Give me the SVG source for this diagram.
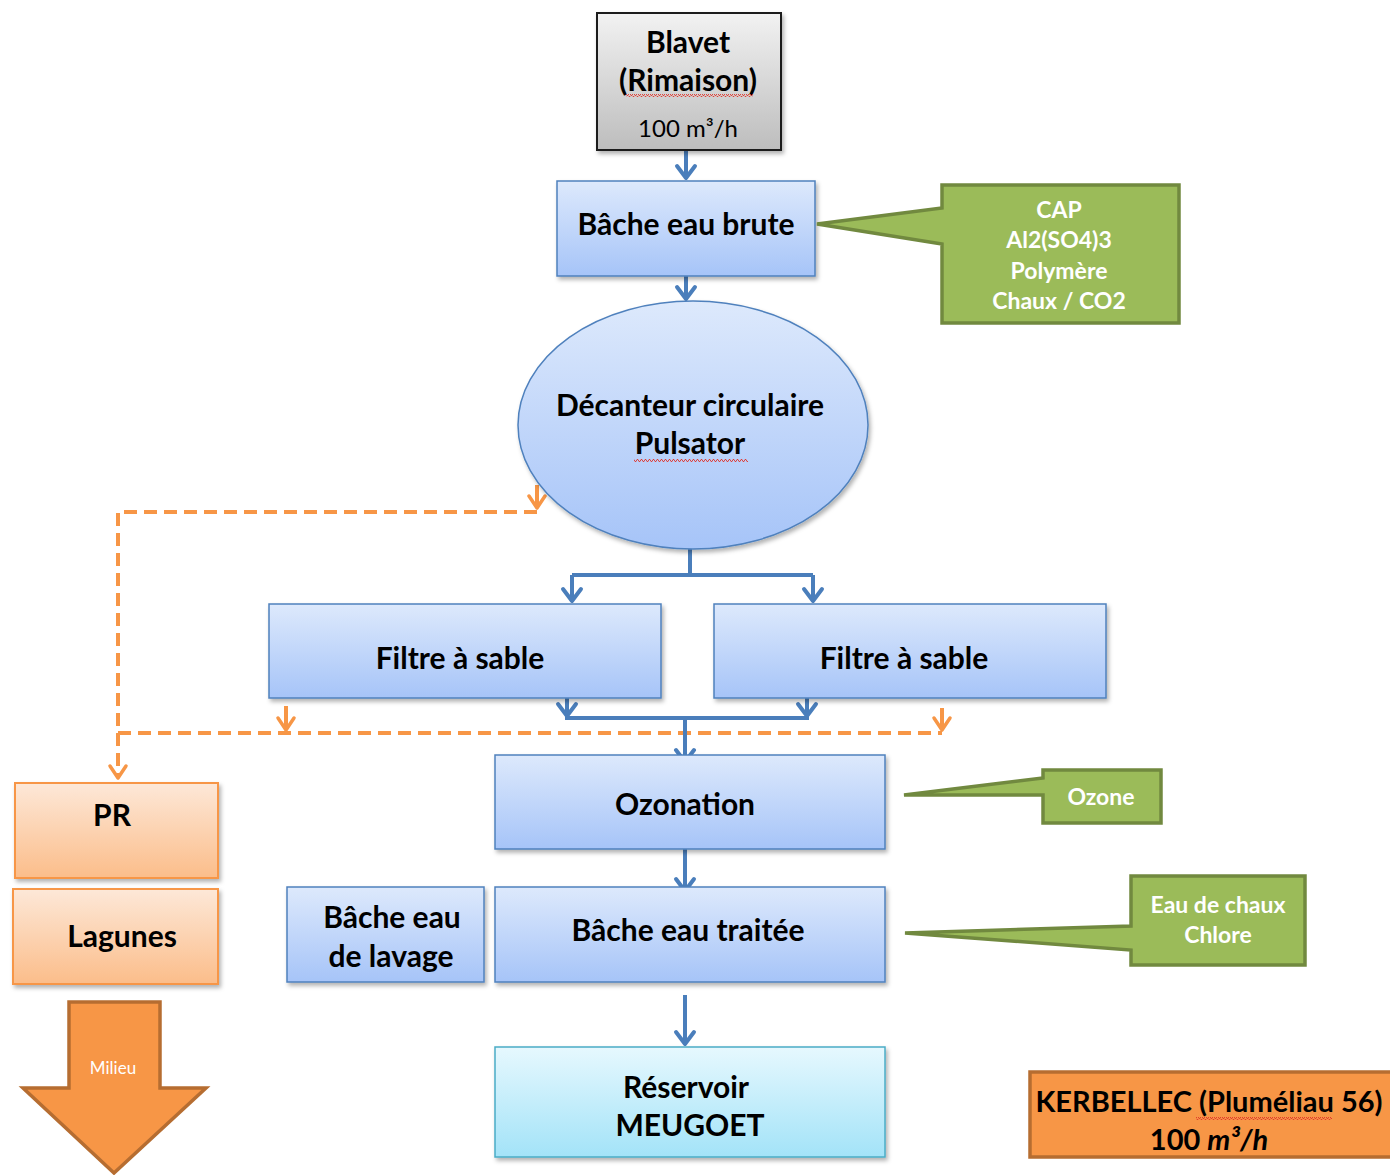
<svg xmlns="http://www.w3.org/2000/svg" width="1390" height="1175" viewBox="0 0 1390 1175">
<defs>
<linearGradient id="gBlue" x1="0" y1="0" x2="0" y2="1"><stop offset="0" stop-color="#dde9fc"/><stop offset="1" stop-color="#a6c4f8"/></linearGradient>
<linearGradient id="gGray" x1="0" y1="0" x2="0" y2="1"><stop offset="0" stop-color="#f2f2f2"/><stop offset="1" stop-color="#bdbdbd"/></linearGradient>
<linearGradient id="gPeach" x1="0" y1="0" x2="0" y2="1"><stop offset="0" stop-color="#fde8d8"/><stop offset="1" stop-color="#fbbd8a"/></linearGradient>
<linearGradient id="gCyan" x1="0" y1="0" x2="0" y2="1"><stop offset="0" stop-color="#e6f8fe"/><stop offset="1" stop-color="#a3e3f8"/></linearGradient>
<filter id="sh" x="-10%" y="-10%" width="125%" height="130%"><feDropShadow dx="2" dy="3" stdDeviation="2" flood-color="#000" flood-opacity="0.3"/></filter>
<marker id="aB" viewBox="-14 -14 28 28" markerWidth="28" markerHeight="28" markerUnits="userSpaceOnUse" refX="0" refY="0" orient="auto" overflow="visible"><path d="M-12,-9 L0,0 L-12,9" fill="none" stroke="#4a7ebb" stroke-width="4" stroke-linecap="round" stroke-linejoin="round"/></marker>
<marker id="aO" viewBox="-14 -14 28 28" markerWidth="28" markerHeight="28" markerUnits="userSpaceOnUse" refX="0" refY="0" orient="auto" overflow="visible"><path d="M-12,-8 L0,0 L-12,8" fill="none" stroke="#f79646" stroke-width="3.5" stroke-linecap="round" stroke-linejoin="round"/></marker>
<pattern id="sq" width="4" height="3" patternUnits="userSpaceOnUse"><path d="M0,2.5 L1,0.5 L2,0.5 L3,2.5 L4,2.5" fill="none" stroke="#e0352b" stroke-width="0.9"/></pattern>
</defs>
<style>
.blue{fill:url(#gBlue);stroke:#4f81bd;stroke-width:1.5}
.t{font-family:Lato,"Open Sans","Liberation Sans",sans-serif;font-weight:bold;font-size:30px;fill:#000;text-anchor:middle}
.w{font-family:Lato,"Open Sans","Liberation Sans",sans-serif;font-weight:bold;font-size:23px;fill:#fff;text-anchor:middle}
.green{fill:#9bbb59;stroke:#71893f;stroke-width:3.5;stroke-linejoin:miter}
.cb{fill:none;stroke:#4a7ebb;stroke-width:4}
.co{fill:none;stroke:#f79646;stroke-width:4;stroke-dasharray:13 7}
.cos{fill:none;stroke:#f79646;stroke-width:4}
</style>
<rect width="1390" height="1175" fill="#ffffff"/>

<g id="connectors">
<path class="co" d="M537,512 H118 V778" marker-end="url(#aO)"/>
<path class="cos" d="M537,485 V508" marker-end="url(#aO)"/>
<path class="co" d="M118,733 H942"/>
<path class="cos" d="M286,706 V730" marker-end="url(#aO)"/>
<path class="cos" d="M942,708 V730" marker-end="url(#aO)"/>
<path class="cb" d="M686,150 V178" marker-end="url(#aB)"/>
<path class="cb" d="M686,276 V299" marker-end="url(#aB)"/>
<path class="cb" d="M690,549 V575 M572,575 H813"/>
<path class="cb" d="M572,575 V601" marker-end="url(#aB)"/>
<path class="cb" d="M813,575 V601" marker-end="url(#aB)"/>
<path class="cb" d="M567,694 V716" marker-end="url(#aB)"/>
<path class="cb" d="M807,694 V716" marker-end="url(#aB)"/>
<path class="cb" d="M565,718 H809"/>
<path class="cb" d="M685,718 V762" marker-end="url(#aB)"/>
<path class="cb" d="M685,845 V891" marker-end="url(#aB)"/>
<path class="cb" d="M685,995 V1044" marker-end="url(#aB)"/>
</g>

<g id="blavet">
<rect x="597" y="13" width="184" height="137" fill="url(#gGray)" stroke="#1a1a1a" stroke-width="2" filter="url(#sh)"/>
<text class="t" x="688" y="53">Blavet</text>
<text class="t" x="688" y="91">(Rimaison)</text>
<rect x="626" y="94" width="127" height="3" fill="url(#sq)"/>
<text class="t" x="688" y="137" style="font-weight:normal;font-size:24px">100 m³/h</text>
</g>

<g id="bache-brute">
<rect class="blue" x="557" y="181" width="258" height="95" filter="url(#sh)"/>
<text class="t" x="686" y="235">Bâche eau brute</text>
</g>

<g id="cap">
<polygon class="green" points="942,185 1179,185 1179,323 942,323 942,244 817,224 942,208"/>
<text class="w" x="1059" y="218">CAP</text>
<text class="w" x="1059" y="248">Al2(SO4)3</text>
<text class="w" x="1059" y="279">Polymère</text>
<text class="w" x="1059" y="309">Chaux / CO2</text>
</g>

<g id="decanteur">
<ellipse cx="693" cy="425" rx="175" ry="124" fill="url(#gBlue)" stroke="#4f81bd" stroke-width="1.5" filter="url(#sh)"/>
<text class="t" x="690" y="416">Décanteur circulaire</text>
<text class="t" x="690" y="454">Pulsator</text>
<rect x="634" y="459" width="114" height="3" fill="url(#sq)"/>
</g>

<g id="filtre1">
<rect class="blue" x="269" y="604" width="392" height="94" filter="url(#sh)"/>
<text class="t" x="460" y="669">Filtre à sable</text>
</g>

<g id="filtre2">
<rect class="blue" x="714" y="604" width="392" height="94" filter="url(#sh)"/>
<text class="t" x="904" y="669">Filtre à sable</text>
</g>

<g id="ozonation">
<rect class="blue" x="495" y="755" width="390" height="94" filter="url(#sh)"/>
<text class="t" x="685" y="815">Ozonation</text>
</g>

<g id="ozone">
<polygon class="green" points="1043,770 1161,770 1161,823 1043,823 1043,795 904,795 1043,778"/>
<text class="w" x="1101" y="805">Ozone</text>
</g>

<g id="bache-lavage">
<rect class="blue" x="287" y="887" width="197" height="95" filter="url(#sh)"/>
<text class="t" x="392" y="928">Bâche eau</text>
<text class="t" x="391" y="967">de lavage</text>
</g>

<g id="bache-traitee">
<rect class="blue" x="495" y="887" width="390" height="95" filter="url(#sh)"/>
<text class="t" x="688" y="941">Bâche eau traitée</text>
</g>

<g id="chlore">
<polygon class="green" points="1131,876 1305,876 1305,965 1131,965 1131,950 905,933 1131,926"/>
<text class="w" x="1218" y="913">Eau de chaux</text>
<text class="w" x="1218" y="943">Chlore</text>
</g>

<g id="reservoir">
<rect x="495" y="1047" width="390" height="110" fill="url(#gCyan)" stroke="#4bacc6" stroke-width="1.5" filter="url(#sh)"/>
<text class="t" x="686" y="1098">Réservoir</text>
<text class="t" x="690" y="1136">MEUGOET</text>
</g>

<g id="kerbellec">
<rect x="1030" y="1072" width="370" height="85" fill="#f79646" stroke="#b66d31" stroke-width="3.5"/>
<text class="t" x="1209" y="1112" style="font-size:29px">KERBELLEC (Pluméliau 56)</text>
<rect x="1196" y="1117" width="136" height="3" fill="url(#sq)"/>
<text class="t" x="1209" y="1150" style="font-size:29px">100 <tspan font-style="italic">m³/h</tspan></text>
</g>

<g id="pr">
<rect x="15" y="783" width="203" height="95" fill="url(#gPeach)" stroke="#f79646" stroke-width="2" filter="url(#sh)"/>
<text class="t" x="112" y="826">PR</text>
</g>

<g id="lagunes">
<rect x="13" y="889" width="205" height="95" fill="url(#gPeach)" stroke="#f79646" stroke-width="2" filter="url(#sh)"/>
<text class="t" x="122" y="947">Lagunes</text>
</g>

<g id="milieu">
<polygon points="69,1002 160,1002 160,1088 206,1088 114,1173 23,1088 69,1088" fill="#f79646" stroke="#b66d31" stroke-width="3.5"/>
<text x="113" y="1074" style="font-family:Lato,'Open Sans','Liberation Sans',sans-serif;font-size:17px;fill:#fff;text-anchor:middle">Milieu</text>
</g>
</svg>
